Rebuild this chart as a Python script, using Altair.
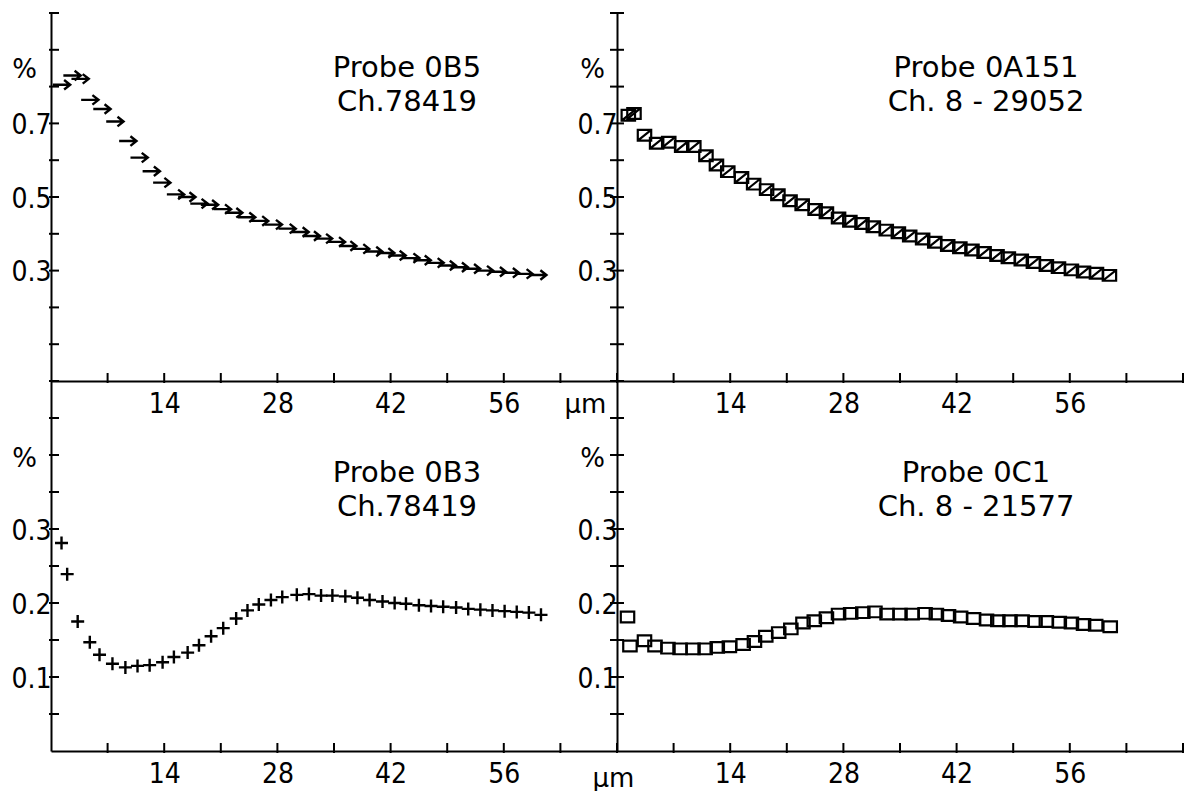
import altair as alt
import pandas as pd

# ---------------- data ----------------
# Probe 0B5 (arrows), top-left
tl_x = [1.3, 2.6, 3.6, 4.8, 6.3, 7.9, 9.5, 10.9, 12.4, 13.7, 15.4, 16.8, 18.3, 19.6,
        21.2, 22.6, 24.2, 25.8, 27.5, 29.2, 30.8, 32.2, 33.7, 35.3, 36.7, 38.3, 39.9,
        41.4, 42.8, 44.5, 45.9, 47.5, 49.0, 50.5, 52.0, 53.6, 55.2, 56.8, 58.5, 60.2]
tl_y = [0.805, 0.830, 0.821, 0.764, 0.739, 0.705, 0.652, 0.607, 0.570, 0.539, 0.507,
        0.500, 0.482, 0.479, 0.467, 0.457, 0.445, 0.435, 0.425, 0.414, 0.405, 0.394,
        0.387, 0.378, 0.367, 0.359, 0.352, 0.348, 0.341, 0.334, 0.328, 0.321, 0.314,
        0.309, 0.305, 0.300, 0.297, 0.294, 0.291, 0.288]

# Probe 0A151 (squares with diagonal), top-right
tr_x = [1.4, 2.1, 3.4, 4.9, 6.4, 8.0, 9.5, 11.0, 12.3, 13.7, 15.4, 16.9, 18.5, 19.9,
        21.4, 22.9, 24.5, 25.9, 27.4, 28.8, 30.3, 31.7, 33.3, 34.8, 36.2, 37.8, 39.3,
        40.9, 42.4, 43.9, 45.4, 47.0, 48.4, 50.0, 51.5, 53.1, 54.6, 56.2, 57.7, 59.3, 60.9]
tr_y = [0.722, 0.727, 0.668, 0.646, 0.649, 0.637, 0.637, 0.612, 0.587, 0.569, 0.553,
        0.535, 0.520, 0.506, 0.490, 0.479, 0.466, 0.457, 0.443, 0.434, 0.428, 0.419,
        0.410, 0.403, 0.394, 0.386, 0.377, 0.368, 0.362, 0.356, 0.349, 0.341, 0.335,
        0.329, 0.322, 0.314, 0.308, 0.302, 0.296, 0.293, 0.287]

# Probe 0B3 (plus signs), bottom-left
bl_x = [1.3, 2.0, 3.3, 4.8, 6.0, 7.6, 9.2, 10.7, 12.2, 13.8, 15.2, 16.9, 18.3, 19.8,
        21.3, 22.9, 24.3, 25.7, 27.2, 28.6, 30.4, 31.9, 33.4, 34.8, 36.4, 37.9, 39.4,
        41.0, 42.5, 43.9, 45.5, 47.0, 48.5, 50.1, 51.6, 53.1, 54.6, 56.1, 57.6, 59.1, 60.6]
bl_y = [0.281, 0.239, 0.175, 0.147, 0.130, 0.118, 0.113, 0.115, 0.116, 0.120, 0.127,
        0.133, 0.143, 0.155, 0.166, 0.179, 0.190, 0.198, 0.204, 0.208, 0.211, 0.212,
        0.210, 0.210, 0.209, 0.207, 0.204, 0.202, 0.200, 0.199, 0.197, 0.196, 0.195,
        0.194, 0.192, 0.191, 0.190, 0.189, 0.188, 0.187, 0.184]

# Probe 0C1 (open squares), bottom-right
br_x = [1.3, 1.6, 3.4, 4.7, 6.3, 7.8, 9.4, 10.9, 12.4, 13.9, 15.6, 17.0, 18.4, 20.0,
        21.5, 23.0, 24.4, 25.9, 27.4, 28.9, 30.4, 31.9, 33.4, 35.0, 36.5, 38.1, 39.5,
        41.0, 42.5, 44.1, 45.7, 47.1, 48.6, 50.1, 51.7, 53.1, 54.7, 56.2, 57.7, 59.2, 61.0]
br_y = [0.181, 0.142, 0.149, 0.142, 0.139, 0.138, 0.138, 0.138, 0.140, 0.141, 0.144,
        0.148, 0.155, 0.160, 0.165, 0.173, 0.176, 0.180, 0.185, 0.186, 0.187, 0.188,
        0.185, 0.185, 0.185, 0.186, 0.185, 0.183, 0.181, 0.179, 0.177, 0.176, 0.176,
        0.176, 0.175, 0.175, 0.174, 0.173, 0.171, 0.170, 0.168]

# axis tick positions and labels
x_ticks = [7, 14, 21, 28, 35, 42, 49, 56, 63, 70]
x_labels = [14, 28, 42, 56]
y_ticks_top = [0.1, 0.2, 0.3, 0.4, 0.5, 0.6, 0.7, 0.8, 0.9, 1.0]
y_labels_top = [0.3, 0.5, 0.7]
y_ticks_bottom = [0.05, 0.1, 0.15, 0.2, 0.25, 0.3, 0.35, 0.4, 0.45, 0.5]
y_labels_bottom = [0.1, 0.2, 0.3]

titles = {
    "tl": ["Probe 0B5", "Ch.78419"],
    "tr": ["Probe 0A151", "Ch. 8 - 29052"],
    "bl": ["Probe 0B3", "Ch.78419"],
    "br": ["Probe 0C1", "Ch. 8 - 21577"],
}

# ---------------- styling ----------------
NUM_FONT = "Liberation Sans Narrow, DejaVu Sans Condensed, Liberation Sans, sans-serif"
TXT_FONT = "DejaVu Sans"
INK = "#000000"
W = 566

ARROW = "M-1,0L1,0M0.3,-0.55L1,0L0.3,0.55"
BOX_DIAG = "M-1,-0.8L1,-0.8L1,0.8L-1,0.8Z M-1,0.8L1,-0.8"
PLUS = "M-1,0L1,0M0,-1L0,1"
BOX = "M-1,-0.8L1,-0.8L1,0.8L-1,0.8Z"


def panel(xs, ys, shape, size, stroke_w, ymax, ylabels, yticks, title_lines, tdx, tdy,
          height, ytick_offset, ytick_size, xtitle="", xtitle_x=0, xtitle_y=0,
          pct_x=-27, pct_y=56):
    xscale = alt.Scale(domain=[0, 70], nice=False, zero=False)
    yscale = alt.Scale(domain=[0, ymax], nice=False, zero=False)

    xaxis = alt.Axis(values=x_labels, format="d", ticks=False, tickSize=0, grid=False,
                     domainColor=INK, domainWidth=2, labelFont=NUM_FONT,
                     labelFontSize=28, labelColor=INK, labelPadding=9,
                     labelOverlap=False, labelFlush=False,
                     title=xtitle, titleX=xtitle_x, titleY=xtitle_y,
                     titleAlign="center", titleBaseline="middle", titleFont=TXT_FONT,
                     titleFontSize=26, titleFontWeight="normal", titleColor=INK)
    yaxis = alt.Axis(values=ylabels, format=".1f", ticks=False, tickSize=0, grid=False,
                     domainColor=INK, domainWidth=2, labelFont=NUM_FONT,
                     labelFontSize=28, labelColor=INK, labelPadding=0,
                     labelBaseline="middle", labelOffset=2,
                     labelOverlap=False, labelFlush=False,
                     title="%", titleAngle=0, titleX=pct_x, titleY=pct_y,
                     titleAlign="center", titleBaseline="middle", titleFont=TXT_FONT,
                     titleFontSize=26, titleFontWeight="normal", titleColor=INK)

    df = pd.DataFrame({"x": xs, "y": ys})
    pts = alt.Chart(df).mark_point(shape=shape, size=size, filled=False, stroke=INK,
                                   strokeWidth=stroke_w, opacity=1).encode(
        x=alt.X("x:Q", scale=xscale, axis=xaxis),
        y=alt.Y("y:Q", scale=yscale, axis=yaxis),
    )

    xt = pd.DataFrame({"x": x_ticks, "y": [0] * len(x_ticks)})
    xtick = alt.Chart(xt).mark_tick(orient="vertical", size=10, thickness=2, color=INK,
                                    opacity=1, yOffset=-3).encode(
        x=alt.X("x:Q", scale=xscale), y=alt.Y("y:Q", scale=yscale))

    yt = pd.DataFrame({"x": [0] * len(yticks), "y": yticks})
    ytick = alt.Chart(yt).mark_tick(orient="horizontal", size=ytick_size, thickness=2,
                                    color=INK, opacity=1, xOffset=ytick_offset).encode(
        x=alt.X("x:Q", scale=xscale), y=alt.Y("y:Q", scale=yscale))

    return alt.layer(pts, xtick, ytick).properties(
        width=W, height=height,
        title=alt.TitleParams(text=title_lines, anchor="middle", frame="group",
                              orient="top", baseline="top", offset=0, dx=tdx, dy=tdy,
                              font=TXT_FONT, fontSize=29, fontWeight="normal",
                              color=INK, lineHeight=34),
    )


tl = panel(tl_x, tl_y, ARROW, 300, 2.4, 1.0, y_labels_top, y_ticks_top, titles["tl"], 73, 105,
           368, 3, 10, xtitle="µm", xtitle_x=534, xtitle_y=23)
tr = panel(tr_x, tr_y, BOX_DIAG, 180, 2.2, 1.0, y_labels_top, y_ticks_top, titles["tr"], 86, 105,
           368, 0, 14, pct_x=-25)
bl = panel(bl_x, bl_y, PLUS, 169, 2.4, 0.5, y_labels_bottom, y_ticks_bottom, titles["bl"], 73, 142,
           370, 3, 10, pct_y=77)
br = panel(br_x, br_y, BOX, 180, 2.2, 0.5, y_labels_bottom, y_ticks_bottom, titles["br"], 76, 142,
           370, 0, 14, xtitle="µm", xtitle_x=-4, xtitle_y=27, pct_x=-25, pct_y=77)

chart = alt.ConcatChart(concat=[tl, tr, bl, br], columns=2, spacing=0,
                        bounds="flush", align="each").properties(
    padding={"left": 10, "top": 12, "right": 0, "bottom": 0},
    background="white",
).configure_view(strokeWidth=0)

chart.save("out.html", embed_options={"renderer": "svg", "actions": False})
